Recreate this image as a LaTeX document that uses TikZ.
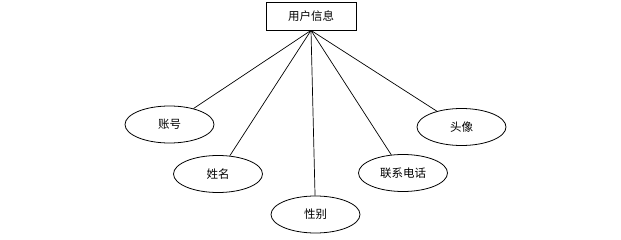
\documentclass[tikz,border=0pt]{standalone}
\usepackage{fontspec}
\usepackage{tikz}
\usetikzlibrary{shapes.geometric, positioning}
\newfontfamily\cjk{Noto Sans CJK SC}
\tikzset{
    entity/.style={rectangle, draw=black, fill=white, line width=0.8pt, minimum width=90pt, minimum height=28pt, inner sep=0pt, text centered, font=\cjk\fontsize{11.5}{13}\selectfont},
    attr/.style={ellipse, draw=black, fill=white, line width=0.8pt, minimum width=89pt, minimum height=37pt, inner sep=0pt, text centered, font=\cjk\fontsize{11.5}{13}\selectfont},
    link/.style={line width=0.7pt, black}
}
\begin{document}
\begin{tikzpicture}[x=1pt, y=-1pt]
    % Canvas
    \useasboundingbox (0,0) rectangle (621,240);

    % Entity
    \node[entity] (user) at (311, 16) {用户信息};

    % Attributes
    \node[attr] (account) at (169.5, 124.5) {账号};
    \node[attr] (name) at (218, 174) {姓名};
    \node[attr] (gender) at (315.5, 214.5) {性别};
    \node[attr] (phone) at (403, 173) {联系电话};
    \node[attr] (avatar) at (461.5, 127) {头像};

    % Links
    \draw[link] (user.south) -- (account);
    \draw[link] (user.south) -- (name);
    \draw[link] (user.south) -- (gender);
    \draw[link] (user.south) -- (phone);
    \draw[link] (user.south) -- (avatar);
\end{tikzpicture}
\end{document}
